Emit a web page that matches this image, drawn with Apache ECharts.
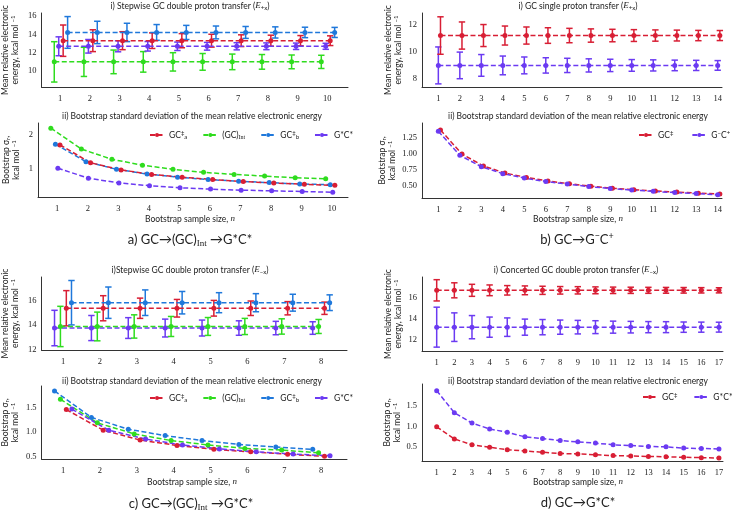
<!DOCTYPE html>
<html><head><meta charset="utf-8">
<script src="https://cdn.jsdelivr.net/npm/echarts@6/dist/echarts.min.js"></script>
<style>html,body{margin:0;padding:0;background:#fff}#c{width:736px;height:511px}</style>
</head><body><div id="c"></div>
<script>
// ---------------- DATA ----------------
// a) GC -> (GC)Int -> G*C*
const nA = [1,2,3,4,5,6,7,8,9,10];
const aMeanGCa  = [13.31,13.31,13.31,13.31,13.31,13.31,13.31,13.31,13.31,13.31];
const aMeanInt  = [11.0,11.0,11.0,11.0,11.0,11.0,11.0,11.0,11.0,11.0];
const aMeanGCb  = [14.21,14.21,14.21,14.21,14.21,14.21,14.21,14.21,14.21,14.21];
const aMeanGsCs = [12.7,12.7,12.7,12.7,12.7,12.7,12.7,12.7,12.7,12.7];
const aStdGCa  = [1.71,1.19,0.98,0.85,0.77,0.70,0.64,0.60,0.56,0.53];
const aStdInt  = [2.20,1.59,1.29,1.12,1.00,0.91,0.85,0.80,0.75,0.72];
const aStdGCb  = [1.73,1.22,1.00,0.86,0.77,0.70,0.65,0.61,0.57,0.55];
const aStdGsCs = [1.03,0.74,0.60,0.52,0.46,0.42,0.39,0.37,0.35,0.33];
// b) GC -> G-C+
const nB = [1,2,3,4,5,6,7,8,9,10,11,12,13,14];
const bMeanGC   = [11.22,11.22,11.22,11.22,11.22,11.22,11.22,11.22,11.22,11.22,11.22,11.22,11.22,11.22];
const bMeanGmCp = [9.02,9.02,9.02,9.02,9.02,9.02,9.02,9.02,9.02,9.02,9.02,9.02,9.02,9.02];
const bStdGC    = [1.38,1.00,0.81,0.70,0.63,0.575,0.53,0.49,0.46,0.435,0.415,0.40,0.38,0.37];
const bStdGmCp  = [1.36,0.98,0.80,0.69,0.62,0.565,0.525,0.485,0.455,0.43,0.41,0.39,0.375,0.355];
// c) GC -> (GC)Int -> G*C*  (E-x)
const nC = [1,2,3,4,5,6,7,8];
const cMeanGCa  = [15.4,15.4,15.4,15.4,15.4,15.4,15.4,15.4];
const cMeanInt  = [13.89,13.89,13.89,13.89,13.89,13.89,13.89,13.89];
const cMeanGCb  = [15.86,15.86,15.86,15.86,15.86,15.86,15.86,15.86];
const cMeanGsCs = [13.76,13.76,13.76,13.76,13.76,13.76,13.76,13.76];
const cStdGCa  = [1.46,1.04,0.84,0.73,0.65,0.60,0.55,0.51];
const cStdInt  = [1.67,1.19,0.965,0.83,0.74,0.67,0.635,0.58];
const cStdGCb  = [1.84,1.30,1.06,0.93,0.83,0.75,0.70,0.65];
const cStdGsCs = [1.47,1.04,0.86,0.74,0.66,0.60,0.555,0.52];
// d) GC -> G*C*
const nD = [1,2,3,4,5,6,7,8,9,10,11,12,13,14,15,16,17];
const dMeanGC   = [16.65,16.65,16.65,16.65,16.65,16.65,16.65,16.65,16.65,16.65,16.65,16.65,16.65,16.65,16.65,16.65,16.65];
const dMeanGsCs = [13.22,13.22,13.22,13.22,13.22,13.22,13.22,13.22,13.22,13.22,13.22,13.22,13.22,13.22,13.22,13.22,13.22];
const dStdGC    = [0.99,0.70,0.56,0.50,0.44,0.41,0.38,0.35,0.34,0.32,0.30,0.29,0.28,0.27,0.26,0.25,0.24];
const dStdGsCs  = [1.86,1.33,1.08,0.94,0.86,0.75,0.71,0.66,0.63,0.60,0.56,0.54,0.52,0.51,0.48,0.47,0.46];
// tick labels
const ticksYA = [10,12,14,16], ticksYA2 = [1,2];
const ticksYB = [8,10,12], ticksYB2 = [0.5,0.75,1.0,1.25];
const ticksYC = [12,14,16], ticksYC2 = [0.5,1.0,1.5];
const ticksYD = [12,14,16], ticksYD2 = [0.5,1.0,1.5];

// ---------------- STYLE ----------------
const SANS = 'Lato';
const SERIF = 'Liberation Serif';
const TXT = '#222';
const COL = {red:'#d81e34', green:'#2fdc1e', blue:'#1f78db', purple:'#6b3af2'};

const RICH = {
  t:{fontFamily:SANS,fontSize:8.5,color:TXT,lineHeight:10},
  sup:{fontFamily:SANS,fontSize:6,color:TXT,lineHeight:5,verticalAlign:'top'},
  sub:{fontFamily:SANS,fontSize:6,color:TXT,lineHeight:5,verticalAlign:'bottom'},
  subs:{fontFamily:SERIF,fontSize:6,color:TXT,lineHeight:5,verticalAlign:'bottom'},
  it:{fontFamily:SERIF,fontStyle:'italic',fontSize:9,color:TXT,lineHeight:10},
  c:{fontFamily:SANS,fontSize:13,color:TXT,lineHeight:16},
  cs:{fontFamily:SERIF,fontSize:9,color:TXT,lineHeight:9,verticalAlign:'bottom'},
  csup:{fontFamily:SANS,fontSize:9,color:TXT,lineHeight:8,verticalAlign:'top'}
};

const grids = [
  {left:38, top:13, width:310, height:74},
  {left:38, top:123, width:310, height:74},
  {left:422, top:13, width:300, height:74},
  {left:422, top:123, width:300, height:75},
  {left:39, top:277, width:308, height:73},
  {left:39, top:386, width:308, height:73},
  {left:422, top:277, width:301, height:74},
  {left:422, top:384, width:301, height:77}
];

function xAx(i, min, max, ticks){
  return {type:'value', gridIndex:i, min:min, max:max,
    axisLine:{show:true, onZero:false, lineStyle:{color:'#333', width:1}},
    axisTick:{show:false}, splitLine:{show:false},
    axisLabel:{customValues:ticks, fontFamily:SERIF, fontSize:8.5, color:TXT, margin:7}};
}
function yAx(i, min, max, ticks, dec, name, gap){
  return {type:'value', gridIndex:i, min:min, max:max,
    axisLine:{show:true, onZero:false, lineStyle:{color:'#333', width:1}},
    axisTick:{show:false}, splitLine:{show:false},
    axisLabel:{customValues:ticks, fontFamily:SERIF, fontSize:8.5, color:TXT, margin:5,
      formatter:v => dec ? v.toFixed(dec) : String(v)},
    name:name, nameLocation:'middle', nameRotate:90, nameGap:gap,
    nameTextStyle:{rich:RICH}};
}
const nameTop = '{t|Mean relative electronic}\n{t|energy, kcal mol }{sup|−1}';
const nameBot = '{t|Bootstrap σ}{sub|r}{t|,}\n{t|kcal mol }{sup|−1}';

const xAxes = [
  xAx(0, 0.37, 10.70, nA), xAx(1, 0.37, 10.52, nA),
  xAx(2, 0.24, 14.2, nB), xAx(3, 0.24, 14.2, nB),
  xAx(4, 0.417, 8.70, nC), xAx(5, 0.417, 8.70, nC),
  xAx(6, 0.167, 17.23, nD), xAx(7, 0.167, 17.23, nD)
];
const yAxes = [
  yAx(0, 8.26, 16.33, ticksYA, 0, nameTop, 21),
  yAx(1, 0.19, 2.35, ticksYA2, 0, nameBot, 17),
  yAx(2, 7.43, 12.88, ticksYB, 0, nameTop, 19),
  yAx(3, 0.305, 1.49, ticksYB2, 2, nameBot, 25),
  yAx(4, 11.94, 17.99, ticksYC, 0, nameTop, 21),
  yAx(5, 0.454, 1.94, ticksYC2, 1, nameBot, 21),
  yAx(6, 11.0, 17.89, ticksYD, 0, nameTop, 19),
  yAx(7, 0.17, 2.02, ticksYD2, 1, nameBot, 20)
];

const series = [];
function lineS(gi, name, ns, off, ys, color){
  series.push({type:'line', name:name, xAxisIndex:gi, yAxisIndex:gi,
    data: ns.map((n,i)=>[n+off, ys[i]]),
    symbol:'circle', symbolSize:5, showSymbol:true,
    lineStyle:{type:[5,2.5], width:1.5, color:color},
    itemStyle:{color:color}, emphasis:{disabled:true}, animation:false, z:3});
}
function errS(gi, ns, off, means, stds, color){
  series.push({type:'custom', name:'err', xAxisIndex:gi, yAxisIndex:gi,
    data: ns.map((n,i)=>[n+off, means[i]-stds[i], means[i]+stds[i]]),
    encode:{x:0, y:[1,2]}, animation:false, z:2,
    renderItem:function(params, api){
      const p1 = api.coord([api.value(0), api.value(1)]);
      const p2 = api.coord([api.value(0), api.value(2)]);
      const w = 3.2;
      const st = {stroke:color, lineWidth:1.5};
      return {type:'group', children:[
        {type:'line', shape:{x1:p1[0], y1:p1[1], x2:p2[0], y2:p2[1]}, style:st},
        {type:'line', shape:{x1:p1[0]-w, y1:p1[1], x2:p1[0]+w, y2:p1[1]}, style:st},
        {type:'line', shape:{x1:p2[0]-w, y1:p2[1], x2:p2[0]+w, y2:p2[1]}, style:st}
      ]};
    }});
}
function topPanel(gi, tag, ns, items){
  items.forEach(it => { errS(gi, ns, it.off, it.mean, it.std, it.color); lineS(gi, tag+it.key, ns, it.off, it.mean, it.color); });
}
function botPanel(gi, tag, ns, items){
  items.forEach(it => lineS(gi, tag+it.key, ns, it.off, it.std, it.color));
}

// a)
topPanel(0, 'ta', nA, [
  {key:'Int', off:-0.2, mean:aMeanInt, std:aStdInt, color:COL.green},
  {key:'GsCs', off:-0.05, mean:aMeanGsCs, std:aStdGsCs, color:COL.purple},
  {key:'GCa', off:0.1, mean:aMeanGCa, std:aStdGCa, color:COL.red},
  {key:'GCb', off:0.25, mean:aMeanGCb, std:aStdGCb, color:COL.blue}
]);
botPanel(1, 'a', nA, [
  {key:'Int', off:-0.21, std:aStdInt, color:COL.green},
  {key:'GsCs', off:0.02, std:aStdGsCs, color:COL.purple},
  {key:'GCb', off:-0.06, std:aStdGCb, color:COL.blue},
  {key:'GCa', off:0.09, std:aStdGCa, color:COL.red}
]);
// b)
topPanel(2, 'tb', nB, [
  {key:'GmCp', off:0.0, mean:bMeanGmCp, std:bStdGmCp, color:COL.purple},
  {key:'GC', off:0.1, mean:bMeanGC, std:bStdGC, color:COL.red}
]);
botPanel(3, 'b', nB, [
  {key:'GC', off:0.1, std:bStdGC, color:COL.red},
  {key:'GmCp', off:0.0, std:bStdGmCp, color:COL.purple}
]);
// c)
topPanel(4, 'tc', nC, [
  {key:'GsCs', off:-0.23, mean:cMeanGsCs, std:cStdGsCs, color:COL.purple},
  {key:'Int', off:-0.07, mean:cMeanInt, std:cStdInt, color:COL.green},
  {key:'GCa', off:0.09, mean:cMeanGCa, std:cStdGCa, color:COL.red},
  {key:'GCb', off:0.23, mean:cMeanGCb, std:cStdGCb, color:COL.blue}
]);
botPanel(5, 'c', nC, [
  {key:'GCa', off:0.09, std:cStdGCa, color:COL.red},
  {key:'Int', off:-0.07, std:cStdInt, color:COL.green},
  {key:'GCb', off:-0.23, std:cStdGCb, color:COL.blue},
  {key:'GsCs', off:0.24, std:cStdGsCs, color:COL.purple}
]);
// d)
topPanel(6, 'td', nD, [
  {key:'GC', off:0, mean:dMeanGC, std:dStdGC, color:COL.red},
  {key:'GsCs', off:0, mean:dMeanGsCs, std:dStdGsCs, color:COL.purple}
]);
botPanel(7, 'd', nD, [
  {key:'GC', off:0, std:dStdGC, color:COL.red},
  {key:'GsCs', off:0, std:dStdGsCs, color:COL.purple}
]);

const LBL = {
  GCa:'{t|GC}{sup|‡}{sub|a}', GCb:'{t|GC}{sup|‡}{sub|b}', Int:'{t|(GC)}{subs|Int}',
  GsCs:'{t|G*C*}', GC:'{t|GC}{sup|‡}', GmCp:'{t|G}{sup|−}{t|C}{sup|+}'
};
function legend(tag, keys, left, top, gap){
  return {data:keys.map(k=>tag+k), left:left, top:top, itemWidth:14, itemHeight:5, itemGap:gap,
    padding:0, formatter:n => LBL[n.slice(1)], textStyle:{rich:RICH, fontSize:8.5, color:TXT},
    selectedMode:false};
}

function T(text, x, y, size){
  return {text:text, left:x, top:y, textAlign:'center', padding:0,
    textStyle:{rich:RICH, fontSize:size, fontWeight:'normal', fontFamily:SANS, color:TXT}};
}
const titles = [
  T('{t|i) Stepwise GC double proton transfer (}{it|E}{sub|+x}{t|)}', 190, 1, 8.5),
  T('{t|ii) Bootstrap standard deviation of the mean relative electronic energy}', 192, 111, 8.5),
  T('{t|Bootstrap sample size, }{it|n}', 190, 214, 8.5),
  T('{c|a) GC→(GC)}{cs|Int}{c| →G*C*}', 190, 232, 13),
  T('{t|i) GC single proton transfer (}{it|E}{sub|+x}{t|)}', 578, 1, 8.5),
  T('{t|ii) Bootstrap standard deviation of the mean relative electronic energy}', 578, 111, 8.5),
  T('{t|Bootstrap sample size, }{it|n}', 578, 214, 8.5),
  T('{c|b) GC→G}{csup|−}{c|C}{csup|+}', 577, 232, 13),
  T('{t|i)Stepwise GC double proton transfer (}{it|E}{sub|−x}{t|)}', 190, 265, 8.5),
  T('{t|ii) Bootstrap standard deviation of the mean relative electronic energy}', 192, 376, 8.5),
  T('{t|Bootstrap sample size, }{it|n}', 192, 477, 8.5),
  T('{c|c) GC→(GC)}{cs|Int}{c| →G*C*}', 191, 496, 13),
  T('{t|i) Concerted GC double proton transfer (}{it|E}{sub|−x}{t|)}', 576, 265, 8.5),
  T('{t|ii) Bootstrap standard deviation of the mean relative electronic energy}', 578, 376, 8.5),
  T('{t|Bootstrap sample size, }{it|n}', 578, 477, 8.5),
  T('{c|d) GC→G*C*}', 578, 495, 13)
];

const chart = echarts.init(document.getElementById('c'), null, {renderer:'canvas'});
chart.setOption({
  backgroundColor:'#fff',
  animation:false,
  title:titles,
  grid:grids,
  xAxis:xAxes,
  yAxis:yAxes,
  legend:[
    legend('a', ['GCa','Int','GCb','GsCs'], 149, 130, 15),
    legend('b', ['GC','GmCp'], 638, 130, 18),
    legend('c', ['GCa','Int','GCb','GsCs'], 149, 393, 15),
    legend('d', ['GC','GsCs'], 642, 392, 16)
  ],
  series:series
});
</script>
</body></html>
